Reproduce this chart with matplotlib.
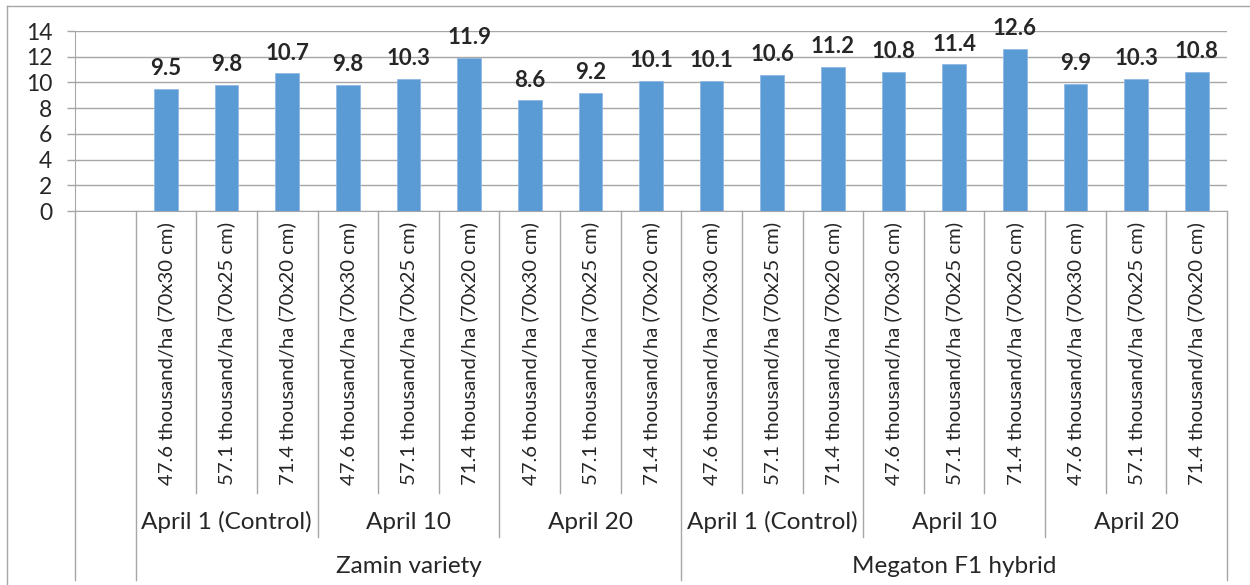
import matplotlib.pyplot as plt
from matplotlib.lines import Line2D

plt.rcParams['font.family'] = ['Lato', 'DejaVu Sans']

# 19 category slots, the first one is empty (as in the original Excel chart)
densities = ["47.6 thousand/ha (70x30 cm)",
             "57.1 thousand/ha (70x25 cm)",
             "71.4 thousand/ha (70x20 cm)"]
sowing_dates = ["April 1 (Control)", "April 10", "April 20"]
varieties = ["Zamin variety", "Megaton F1 hybrid"]

zamin = [9.5, 9.8, 10.7, 9.8, 10.3, 11.9, 8.6, 9.2, 10.1]
megaton = [10.1, 10.6, 11.2, 10.8, 11.4, 12.6, 9.9, 10.3, 10.8]
values = zamin + megaton

BAR = "#5B9BD5"
GRID = "#A6A6A6"
TXT = "#262626"

fig = plt.figure(figsize=(12.5, 5.85), dpi=100)
ax = fig.add_axes([0.06, 0.6393, 0.9216, 0.3077])

x = list(range(1, len(values) + 1))
ax.bar(x, values, width=0.39, color=BAR, edgecolor="#8FB8E3", linewidth=0.6, zorder=3)
for xi, v in zip(x, values):
    ax.annotate(f"{v:.1f}", (xi, v), xytext=(0, 7), textcoords="offset points",
                ha="center", va="bottom", fontsize=16, fontweight="bold", color=TXT)

ax.set_xlim(-0.5, 18.5)
ax.set_ylim(0, 14)
ax.set_yticks(range(0, 15, 2))
ax.yaxis.grid(True, color=GRID, linewidth=1, zorder=0)
ax.tick_params(axis="y", length=5.8, width=1, color=GRID, pad=10.5, labelsize=16.5, labelcolor=TXT)
ax.set_xticks([])
for s in ["top", "right"]:
    ax.spines[s].set_visible(False)
ax.spines["left"].set_color(GRID)
ax.spines["bottom"].set_color(GRID)

# multi-level category axis drawn below the plot
tr = ax.get_xaxis_transform()
h = 180.0  # axes height in px
lvl1 = -(493 - 211) / h
lvl2 = -(537 - 211) / h
lvl3 = -(580 - 211) / h

for b in range(0, 19):
    xb = b + 0.5
    if b in (0, 9, 18):
        y_end = lvl3
    elif b % 3 == 0:
        y_end = lvl2
    else:
        y_end = lvl1
    ax.add_line(Line2D([xb, xb], [0, y_end], transform=tr, color=GRID, lw=1, clip_on=False))
ax.add_line(Line2D([-0.5, -0.5], [0, lvl3], transform=tr, color=GRID, lw=1, clip_on=False))

for i in range(18):
    ax.text(i + 1, -(222 - 211) / h, densities[i % 3], transform=tr, rotation=90,
            ha="center", va="top", fontsize=14.6, color=TXT)
for g in range(6):
    ax.text(g * 3 + 2, -(522 - 211) / h, sowing_dates[g % 3], transform=tr,
            ha="center", va="center", fontsize=17.5, color=TXT)
for v in range(2):
    ax.text(v * 9 + 5, -(566 - 211) / h, varieties[v], transform=tr,
            ha="center", va="center", fontsize=17.5, color=TXT)

# chart frame (left and top edges visible)
fig.add_artist(Line2D([7 / 1250, 7 / 1250], [1 - 6 / 585, 0], transform=fig.transFigure,
                      color=GRID, lw=1))
fig.add_artist(Line2D([7 / 1250, 1], [1 - 6 / 585, 1 - 6 / 585], transform=fig.transFigure,
                      color=GRID, lw=1))

fig.savefig("out.png", dpi=100)
